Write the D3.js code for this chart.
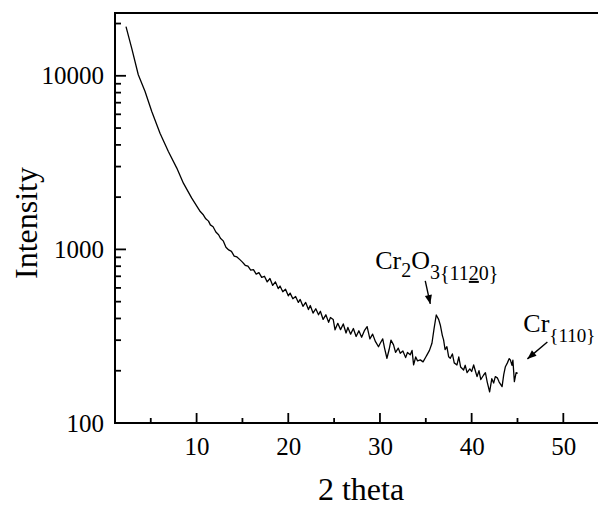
<!DOCTYPE html>
<html>
<head>
<meta charset="utf-8">
<script src="https://cdn.jsdelivr.net/npm/d3@7"></script>
<style>
  body { margin: 0; background: #fff; }
  svg { display: block; font-family: "Liberation Serif", "Times New Roman", serif; }
</style>
</head>
<body>
<svg id="chart" width="598" height="506"></svg>
<script>
// XRD scan (2 theta in degrees, intensity in counts)
const twoTheta = [
  2.30, 2.92, 3.64, 4.38, 5.11, 6.01, 6.92, 7.84, 8.56, 9.47,
  10.4, 10.7, 11.0, 11.3, 11.5, 11.8, 12.1, 12.4, 12.6, 12.9,
  13.2, 13.5, 13.8, 14.1, 14.4, 14.75, 15.0, 15.3, 15.6, 15.9,
  16.2, 16.5, 16.8, 17.1, 17.4, 17.7, 18.0, 18.3, 18.6, 18.9,
  19.1, 19.4, 19.7, 20.0, 20.2, 20.5, 20.8, 21.1, 21.3, 21.6,
  21.9, 22.2, 22.4, 22.7, 23.0, 23.3, 23.5, 23.8, 24.1, 24.4,
  24.6, 24.9, 25.1, 25.4, 25.7, 26.0, 26.3, 26.5, 26.8, 27.1,
  27.4, 27.7, 28.0, 28.3, 28.6, 28.9, 29.2, 29.5, 29.84, 30.03,
  30.3, 30.5, 30.76, 31.0, 31.2, 31.48, 31.7, 32.0, 32.21, 32.5,
  32.8, 33.0, 33.3, 33.5, 33.67, 33.9, 34.1, 34.4, 34.7, 35.0,
  35.13, 35.4, 35.67, 35.9, 36.14, 36.4, 36.58, 36.8, 36.94, 37.1,
  37.3, 37.49, 37.67, 37.9, 38.1, 38.4, 38.6, 38.8, 39.12, 39.3,
  39.5, 39.8, 40.0, 40.22, 40.4, 40.59, 40.8, 41.0, 41.31, 41.5,
  41.7, 41.96, 42.2, 42.4, 42.58, 42.8, 43.0, 43.32, 43.5, 43.68,
  43.9, 44.1, 44.22, 44.4, 44.5, 44.66, 44.85, 45.02
];
const intensity = [
  19200, 14450, 10140, 8120, 6230, 4670, 3660, 2940, 2408, 1973,
  1652, 1590, 1500, 1455, 1384, 1350, 1260, 1215, 1160, 1120,
  1030, 993, 975, 915, 905, 870, 845, 810, 800, 760,
  765, 720, 735, 690, 700, 650, 680, 620, 650, 595,
  615, 570, 590, 540, 560, 520, 535, 495, 515, 470,
  495, 450, 475, 430, 455, 420, 440, 395, 420, 380,
  405, 395, 344, 375, 345, 372, 330, 355, 325, 350,
  315, 340, 312, 340, 359, 305, 325, 295, 275, 288,
  305, 270, 236, 265, 300, 282, 255, 270, 252, 260,
  238, 255, 247, 262, 216, 240, 228, 231, 225, 240,
  247, 262, 288, 350, 419, 395, 367, 320, 301, 265,
  275, 241, 236, 250, 222, 216, 240, 210, 202, 215,
  195, 205, 198, 216, 200, 185, 200, 178, 189, 195,
  172, 151, 180, 170, 185, 182, 172, 162, 190, 211,
  222, 235, 231, 215, 230, 173, 195, 193
];

const xMajor = [10, 20, 30, 40, 50];
const xMinor = [5, 15, 25, 35, 45];
const yMajor = [100, 1000, 10000];
const yMinor = [200, 300, 400, 500, 600, 700, 800, 900,
                2000, 3000, 4000, 5000, 6000, 7000, 8000, 9000, 20000];

const svg = d3.select("#chart");
const plotLeft = 115, plotRight = 600, plotTop = 13, plotBottom = 423;
const serif = "'Liberation Serif', 'Times New Roman', serif";

const x = d3.scaleLinear().domain([1.1, 54]).range([plotLeft, plotRight]);
const y = d3.scaleLog().domain([100, 23000]).range([plotBottom, plotTop]);

// tick labels from d3 axes (tick lines drawn separately below)
const xAxis = svg.append("g")
  .attr("transform", `translate(0,${plotBottom})`)
  .call(d3.axisBottom(x).tickValues(xMajor).tickSize(0).tickPadding(14));
const yAxis = svg.append("g")
  .attr("transform", `translate(${plotLeft},0)`)
  .call(d3.axisLeft(y).tickValues(yMajor).tickSize(0).tickPadding(11)
    .tickFormat(d3.format("d")));
[xAxis, yAxis].forEach(g => {
  g.select(".domain").remove();
  g.attr("font-family", serif).attr("font-size", 25);
  g.selectAll("text").attr("fill", "#000");
});

// inward tick marks
const ticks = svg.append("g").attr("stroke", "#000");
ticks.selectAll(".xt")
  .data(xMajor.map(v => [v, 10]).concat(xMinor.map(v => [v, 5])))
  .enter().append("line")
  .attr("x1", d => x(d[0])).attr("x2", d => x(d[0]))
  .attr("y1", plotBottom).attr("y2", d => plotBottom - d[1])
  .attr("stroke-width", 1.8);
ticks.selectAll(".yt")
  .data(yMajor.map(v => [v, 11]).concat(yMinor.map(v => [v, 6])))
  .enter().append("line")
  .attr("y1", d => y(d[0])).attr("y2", d => y(d[0]))
  .attr("x1", plotLeft).attr("x2", d => plotLeft + d[1])
  .attr("stroke-width", 1.8);

// frame: left, bottom, top
svg.append("path")
  .attr("d", `M${plotRight},${plotTop}H${plotLeft}V${plotBottom}H${plotRight}`)
  .attr("fill", "none")
  .attr("stroke", "#000")
  .attr("stroke-width", 2);

// the scan
const line = d3.line()
  .x((d, i) => x(twoTheta[i]))
  .y(d => y(d));

svg.append("path")
  .datum(intensity)
  .attr("fill", "none")
  .attr("stroke", "#000")
  .attr("stroke-width", 1.3)
  .attr("stroke-linejoin", "round")
  .attr("d", line);

// axis titles
svg.append("text")
  .attr("x", 361).attr("y", 500)
  .attr("text-anchor", "middle")
  .attr("font-size", 32)
  .text("2 theta");

svg.append("text")
  .attr("transform", "translate(37,223) rotate(-90)")
  .attr("text-anchor", "middle")
  .attr("font-size", 32)
  .text("Intensity");

// peak annotations
const defs = svg.append("defs");
defs.append("marker")
  .attr("id", "head")
  .attr("viewBox", "0 0 10 10")
  .attr("refX", 10).attr("refY", 5)
  .attr("markerWidth", 10).attr("markerHeight", 9)
  .attr("markerUnits", "userSpaceOnUse")
  .attr("orient", "auto")
  .append("path").attr("d", "M0,1 L10,5 L0,9 Z").attr("fill", "#000");

const arrows = [
  { from: [34.94, 658], to: [35.49, 485] },
  { from: [48.26, 293], to: [46.08, 234] }
];
svg.selectAll("line.arrow")
  .data(arrows)
  .enter().append("line")
  .attr("class", "arrow")
  .attr("x1", d => x(d.from[0])).attr("y1", d => y(d.from[1]))
  .attr("x2", d => x(d.to[0])).attr("y2", d => y(d.to[1]))
  .attr("stroke", "#000").attr("stroke-width", 1.4)
  .attr("marker-end", "url(#head)");

const lab1 = svg.append("text")
  .attr("x", x(29.48)).attr("y", y(772))
  .attr("font-size", 26);
lab1.append("tspan").text("Cr");
lab1.append("tspan").attr("dy", 8).attr("font-size", 20).text("2");
lab1.append("tspan").attr("dy", -8).text("O");
lab1.append("tspan").attr("dy", 10).attr("font-size", 20).text("3");
lab1.append("tspan").attr("dy", 1).attr("font-size", 20).text("{11");
lab1.append("tspan").attr("font-size", 20).attr("text-decoration", "underline").text("2");
lab1.append("tspan").attr("font-size", 20).text("0}");

const lab2 = svg.append("text")
  .attr("x", x(45.64)).attr("y", y(334))
  .attr("font-size", 26);
lab2.append("tspan").text("Cr");
lab2.append("tspan").attr("dy", 10).attr("font-size", 19).text("{110}");
</script>
</body>
</html>
